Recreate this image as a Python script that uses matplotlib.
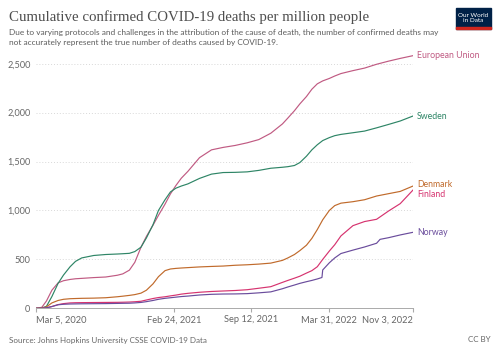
import numpy as np
import pandas as pd
import matplotlib
matplotlib.use("Agg")
import matplotlib.pyplot as plt
from matplotlib.patches import Rectangle

# samples (deaths per million)
dates = ["2020-03-05", "2020-03-20", "2020-04-01", "2020-04-15", "2020-05-01",
         "2020-05-15", "2020-06-01", "2020-06-15", "2020-07-01", "2020-08-01",
         "2020-09-01", "2020-10-01", "2020-10-15", "2020-11-01", "2020-11-15",
         "2020-12-01", "2020-12-15", "2021-01-01", "2021-01-15", "2021-02-01",
         "2021-02-15", "2021-03-01", "2021-03-15", "2021-04-01", "2021-05-01",
         "2021-06-01", "2021-07-01", "2021-08-01", "2021-09-01", "2021-10-01",
         "2021-11-01", "2021-12-01", "2021-12-15", "2022-01-01", "2022-01-15",
         "2022-02-01", "2022-02-15", "2022-03-01", "2022-03-15", "2022-04-01",
         "2022-04-15", "2022-05-01", "2022-06-01", "2022-07-01", "2022-08-01",
         "2022-09-01", "2022-10-01", "2022-11-03"]

eu = [0, 10, 75, 185, 260, 282, 295, 302, 306, 314,
      320, 338, 352, 390, 470, 625, 735, 850, 950, 1065,
      1170, 1255, 1330, 1400, 1540, 1620, 1645, 1665, 1692, 1725,
      1790, 1885, 1945, 2020, 2090, 2165, 2240, 2295, 2325, 2350,
      2375, 2400, 2430, 2456, 2495, 2527, 2555, 2583]
sweden = [0, 3, 20, 120, 255, 340, 425, 480, 515, 540,
          550, 555, 558, 562, 580, 625, 720, 855, 1000, 1110,
          1190, 1228, 1250, 1272, 1328, 1372, 1388, 1390, 1395, 1410,
          1432, 1442, 1448, 1460, 1490, 1555, 1620, 1672, 1715, 1745,
          1765, 1778, 1795, 1812, 1845, 1880, 1915, 1966]
denmark = [0, 1, 15, 55, 80, 92, 98, 100, 102, 104,
           108, 118, 124, 132, 140, 155, 185, 250, 323, 385,
           402, 408, 412, 416, 423, 428, 432, 440, 445, 452,
           462, 490, 515, 550, 590, 645, 715, 805, 905, 1000,
           1050, 1075, 1090, 1110, 1148, 1172, 1195, 1250]
finland = [0, 0, 5, 18, 38, 48, 55, 57, 58, 59,
           60, 61, 62, 64, 67, 72, 85, 100, 110, 118,
           127, 135, 145, 153, 164, 172, 177, 182, 190, 205,
           221, 265, 285, 308, 328, 360, 385, 425, 500, 585,
           650, 740, 845, 887, 910, 995, 1070, 1209]

norway_dates = ["2020-03-05", "2020-03-20", "2020-04-01", "2020-04-15", "2020-05-01",
                "2020-05-15", "2020-06-01", "2020-06-15", "2020-07-01", "2020-08-01",
                "2020-09-01", "2020-10-01", "2020-10-15", "2020-11-01", "2020-11-15",
                "2020-12-01", "2020-12-15", "2021-01-01", "2021-01-15", "2021-02-01",
                "2021-02-15", "2021-03-01", "2021-03-15", "2021-04-01", "2021-05-01",
                "2021-06-01", "2021-07-01", "2021-08-01", "2021-09-01", "2021-10-01",
                "2021-11-01", "2021-12-01", "2021-12-15", "2022-01-01", "2022-01-15",
                "2022-02-01", "2022-02-15", "2022-03-01", "2022-03-13", "2022-03-15",
                "2022-04-01", "2022-04-15", "2022-05-01", "2022-06-01", "2022-07-01",
                "2022-08-01", "2022-08-10", "2022-09-01", "2022-10-01", "2022-11-03"]
norway = [0, 0, 5, 18, 36, 41, 44, 45, 46, 47,
          48, 50, 51, 52, 55, 60, 68, 80, 92, 102,
          108, 114, 120, 125, 136, 143, 146, 147, 150, 158,
          168, 200, 218, 238, 255, 272, 285, 300, 315, 392,
          465, 515, 560, 595, 627, 665, 705, 722, 750, 777]

series = [
    ("European Union", dates, eu, "#c05a82", 0),
    ("Sweden", dates, sweden, "#2e8566", 0),
    ("Denmark", dates, denmark, "#c06a2b", 1),
    ("Finland", dates, finland, "#d6336f", -3),
    ("Norway", norway_dates, norway, "#6a4c9c", 0),
]

yticks = [0, 500, 1000, 1500, 2000, 2500]
xtick_dates = ["2020-03-05", "2021-02-24", "2021-09-12", "2022-03-31", "2022-11-03"]
xtick_labels = ["Mar 5, 2020", "Feb 24, 2021", "Sep 12, 2021", "Mar 31, 2022", "Nov 3, 2022"]

plt.rcParams["font.family"] = ["Lato", "DejaVu Sans"]

W, H = 500, 353
fig = plt.figure(figsize=(5, 3.53), dpi=100)
ax = fig.add_axes([36 / W, 1 - 308.3 / H, 377 / W, 254.3 / H])

for name, d, v, col, dy in series:
    t = pd.to_datetime(d)
    ax.plot(t, v, color=col, lw=0.85, solid_joinstyle="round")
    ax.annotate(name, xy=(t[-1], v[-1]), xytext=(3, dy),
                textcoords="offset points", va="center", ha="left",
                fontsize=6.3, color=col, annotation_clip=False)

ax.set_xlim(pd.Timestamp("2020-03-05"), pd.Timestamp("2022-11-03"))
ax.set_ylim(0, 2600)
ax.set_yticks(yticks)
ax.set_yticklabels([f"{t:,}" for t in yticks])
ax.yaxis.grid(True, ls=(0, (1, 2)), color="#d8d8d8", lw=0.7)
ax.set_axisbelow(True)
ax.tick_params(axis="y", length=0, labelsize=6.6, labelcolor="#666666", pad=4)

xt = pd.to_datetime(xtick_dates)
ax.set_xticks(xt)
ax.set_xticklabels(xtick_labels)
ax.tick_params(axis="x", length=3, color="#aaaaaa", labelsize=6.7,
               labelcolor="#666666", pad=2)
labs = ax.get_xticklabels()
labs[0].set_ha("left")
labs[-1].set_ha("right")

for s in ["top", "right", "left"]:
    ax.spines[s].set_visible(False)
ax.spines["bottom"].set_color("#aaaaaa")
ax.spines["bottom"].set_linewidth(0.7)

# header
fig.text(9 / W, 1 - 17 / H, "Cumulative confirmed COVID-19 deaths per million people",
         family="Liberation Serif", fontsize=10.7, color="#4e4e4e", va="center")
fig.text(9 / W, 1 - 32 / H,
         "Due to varying protocols and challenges in the attribution of the cause of death, "
         "the number of confirmed deaths may", fontsize=5.95, color="#5b5b5b", va="center")
fig.text(9 / W, 1 - 42 / H,
         "not accurately represent the true number of deaths caused by COVID-19.",
         fontsize=5.95, color="#5b5b5b", va="center")

# logo
fig.patches.append(Rectangle((456 / W, 1 - 29 / H), 35 / W, 21 / H,
                             transform=fig.transFigure, color="#002147"))
fig.patches.append(Rectangle((456 / W, 1 - 29 / H), 35 / W, 1.6 / H,
                             transform=fig.transFigure, color="#ce261e"))
fig.text(473.5 / W, 1 - 18 / H, "Our World\nin Data", color="white", fontsize=4.6,
         ha="center", va="center", linespacing=1.0)

# footer
fig.text(9 / W, 1 - 340 / H, "Source: Johns Hopkins University CSSE COVID-19 Data",
         fontsize=5.8, color="#666666", va="center")
fig.text(491 / W, 1 - 340 / H, "CC BY", fontsize=5.8, color="#666666",
         va="center", ha="right")

fig.savefig("out.png", dpi=100)
